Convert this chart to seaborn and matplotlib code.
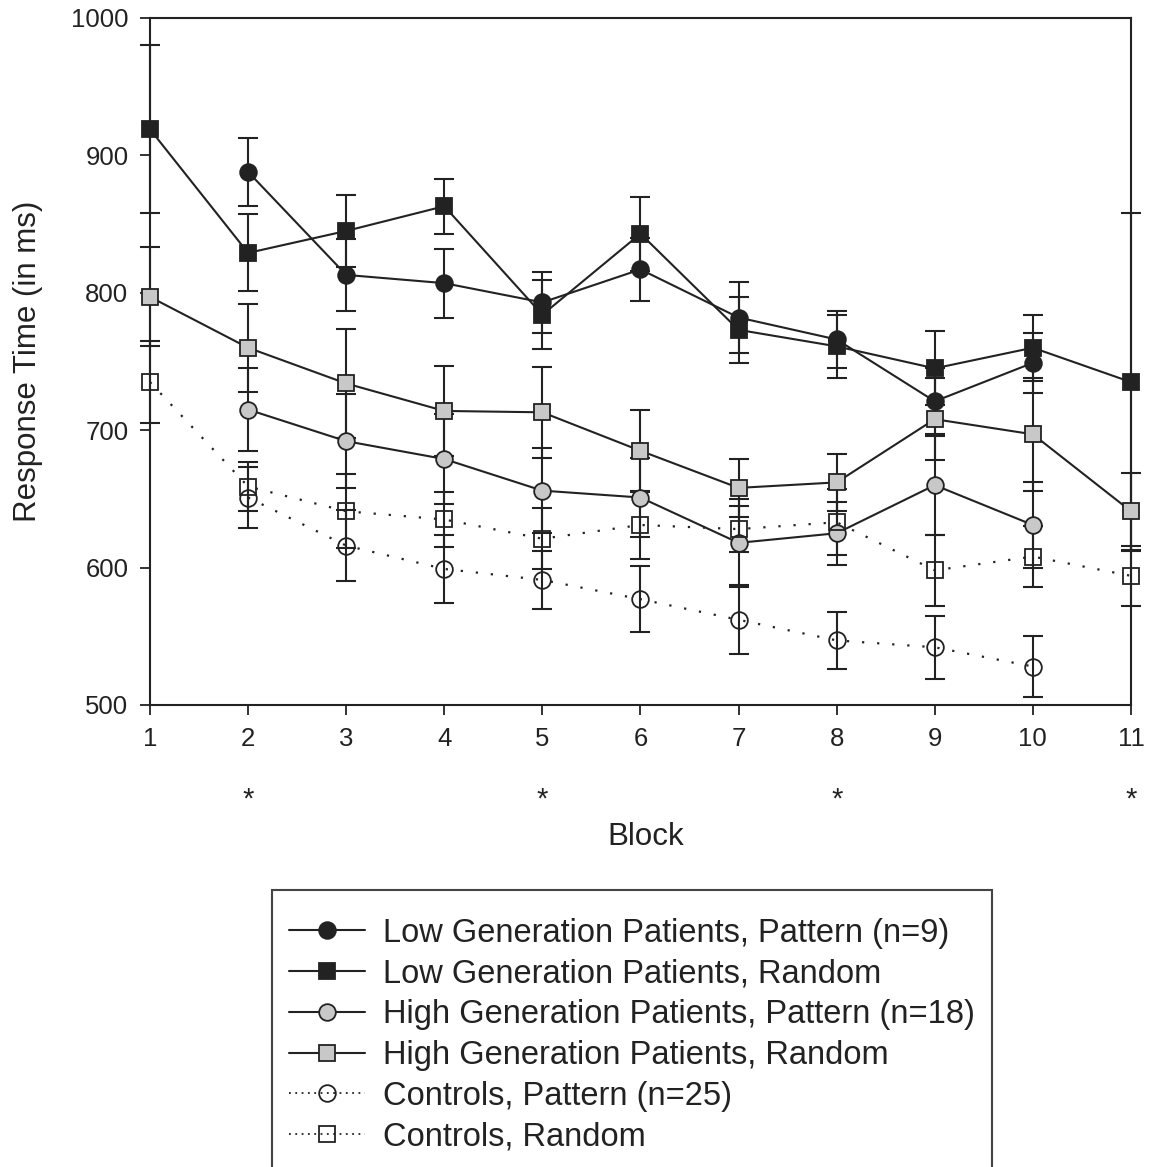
import matplotlib
matplotlib.use("Agg")
import matplotlib.pyplot as plt
import matplotlib.transforms as mtransforms
import seaborn as sns

# Blocks on the x axis
blocks = [1, 2, 3, 4, 5, 6, 7, 8, 9, 10, 11]
pattern_blocks = [2, 3, 4, 5, 6, 7, 8, 9, 10]

# Mean response time (ms) and error bar half-widths
low_pat = [888, 813, 807, 793, 817, 782, 766, 721, 749]
low_pat_se = [25, 26, 25, 22, 23, 26, 21, 24, 22]
low_rnd = [919, 829, 845, 863, 784, 843, 773, 761, 745, 760, 735]
low_rnd_se = [61, 28, 26, 20, 25, 27, 24, 23, 27, 24, 123]

high_pat = [715, 692, 679, 656, 651, 618, 625, 660, 631]
high_pat_se = [30, 34, 33, 31, 29, 32, 23, 36, 31]
high_rnd = [797, 760, 734, 714, 713, 685, 658, 662, 708, 697, 641]
high_rnd_se = [36, 32, 40, 33, 33, 30, 21, 21, 30, 41, 28]

ctl_pat = [651, 616, 599, 591, 577, 562, 547, 542, 528]
ctl_pat_se = [22, 26, 25, 21, 24, 25, 21, 23, 22]
ctl_rnd = [735, 659, 641, 635, 621, 631, 628, 633, 598, 608, 594]
ctl_rnd_se = [30, 18, 27, 20, 22, 25, 17, 24, 26, 22, 22]

star_blocks = [2, 5, 8, 11]

labels = [
    "Low Generation Patients, Pattern (n=9)",
    "Low Generation Patients, Random",
    "High Generation Patients, Pattern (n=18)",
    "High Generation Patients, Random",
    "Controls, Pattern (n=25)",
    "Controls, Random",
]

sns.set_theme(style="ticks")
plt.rcParams["font.family"] = ["Liberation Sans", "DejaVu Sans"]

ink = "#222222"
grey = "#c8c8c8"
dotted = (0, (1, 5.8))

series = [
    (pattern_blocks, low_pat, low_pat_se, "o", ink, "-"),
    (blocks, low_rnd, low_rnd_se, "s", ink, "-"),
    (pattern_blocks, high_pat, high_pat_se, "o", grey, "-"),
    (blocks, high_rnd, high_rnd_se, "s", grey, "-"),
    (pattern_blocks, ctl_pat, ctl_pat_se, "o", "none", dotted),
    (blocks, ctl_rnd, ctl_rnd_se, "s", "none", dotted),
]

fig = plt.figure(figsize=(11.51, 11.67), dpi=100)
ax = fig.add_axes([0.1303, 0.3959, 0.8523, 0.5887])

for (xs, ys, se, mk, fc, ls), lab in zip(series, labels):
    eb = ax.errorbar(xs, ys, yerr=se, fmt="none", ecolor=ink, elinewidth=1.5,
                     capsize=7.5, capthick=1.5, zorder=2)
    for art in eb.lines[1] + eb.lines[2]:
        art.set_clip_on(False)
    sns.lineplot(x=xs, y=ys, ax=ax, color=ink, linewidth=1.5 if ls == "-" else 1.6,
                 linestyle=ls, marker=mk, markersize=12, markerfacecolor=fc,
                 markeredgecolor=ink, markeredgewidth=1.3, label=lab, zorder=3,
                 clip_on=False)

ax.set_xlim(1, 11)
ax.set_ylim(500, 1000)
ax.set_xticks(blocks)
ax.set_yticks([500, 600, 700, 800, 900, 1000])
ax.tick_params(direction="out", length=7.5, width=1.3, color=ink,
               labelsize=18.5, labelcolor=ink, pad=8)
ax.tick_params(top=False, right=False)
for sp in ax.spines.values():
    sp.set_color(ink)
    sp.set_linewidth(1.5)
    sp.set_visible(True)

ax.set_xlabel("Block", fontsize=22.5, color=ink)
ax.set_ylabel("Response Time (in ms)", fontsize=22.5, color=ink)
ax.xaxis.set_label_coords(0.505, -0.171)
ax.yaxis.set_label_coords(-0.109, 0.5)

# significance markers under the x axis
trans = mtransforms.blended_transform_factory(ax.transData, ax.transAxes)
for b in star_blocks:
    ax.text(b, -0.138, "*", transform=trans, ha="center", va="center",
            fontsize=21, color=ink)

handles, labs = ax.get_legend_handles_labels()
ax.get_legend().remove()
# blank tiny title gives a bit of extra room above the first entry
leg = fig.legend(handles, labs, loc="upper left", bbox_to_anchor=(0.2363, 0.2374),
                 fontsize=23.5, frameon=True, fancybox=False, framealpha=1,
                 edgecolor="#444444", borderpad=0.52, labelspacing=0.3,
                 handlelength=2.33, handletextpad=0.55, borderaxespad=0,
                 title=" ", title_fontsize=1)
leg.get_frame().set_linewidth(1.5)
for t in leg.get_texts():
    t.set_color(ink)
for ln in leg.get_lines()[4:]:
    ln.set_linestyle((0, (1, 2.5)))
    ln.set_linewidth(1.3)

fig.savefig("out.png", dpi=100)
